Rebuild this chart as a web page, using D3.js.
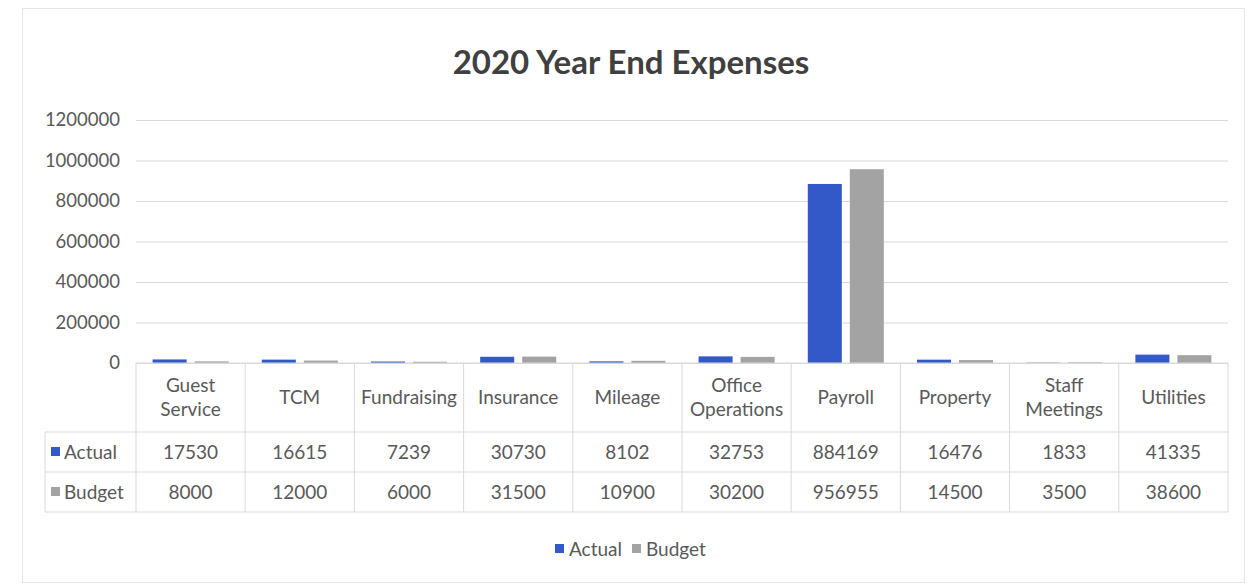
<!DOCTYPE html>
<html><head><meta charset="utf-8">
<script src="https://cdn.jsdelivr.net/npm/d3@7"></script>
<style>html,body{margin:0;padding:0;background:#fff;}svg{display:block;}</style>
</head><body>
<svg id="c" width="1248" height="585"></svg>
<script>
const categories = ["Guest Service","TCM","Fundraising","Insurance","Mileage","Office Operations","Payroll","Property","Staff Meetings","Utilities"];
const categoryLines = [["Guest","Service"],["TCM"],["Fundraising"],["Insurance"],["Mileage"],["Office","Operations"],["Payroll"],["Property"],["Staff","Meetings"],["Utilities"]];
const seriesNames = ["Actual","Budget"];
const actual = [17530,16615,7239,30730,8102,32753,884169,16476,1833,41335];
const budget = [8000,12000,6000,31500,10900,30200,956955,14500,3500,38600];
const yTicks = [0,200000,400000,600000,800000,1000000,1200000];
const title = "2020 Year End Expenses";

const colors = {Actual:"#3358c8", Budget:"#a3a3a3"};
const seriesValues = {Actual: actual, Budget: budget};
const font = "Lato, 'Open Sans', sans-serif";
const textCol = "#595959";

const svg = d3.select("#c");
svg.append("rect").attr("x",0).attr("y",0).attr("width",1248).attr("height",585).attr("fill","#fff");
// faint chart border
svg.append("rect").attr("x",22.5).attr("y",8.5).attr("width",1222).attr("height",574)
  .attr("fill","none").attr("stroke","#e6e6e6");

const L = 136, R = 1228, T = 120, B = 363;
const x = d3.scaleBand().domain(categories).range([L,R]).paddingInner(0).paddingOuter(0);
const xs = d3.scaleBand().domain(seriesNames).range([0,x.bandwidth()]).paddingInner(0.19).paddingOuter(0.395);
const y = d3.scaleLinear().domain([0,1200000]).range([B,T]);

svg.append("text").attr("x",631).attr("y",74).attr("text-anchor","middle")
  .attr("font-family",font).attr("font-weight",700).attr("font-size",33).attr("fill","#404040").text(title);

// gridlines
const yAxis = d3.axisLeft(y).tickValues(yTicks).tickSize(-(R-L)).tickPadding(16).tickFormat(d3.format("d"));
const g = svg.append("g").attr("transform",`translate(${L},0)`).call(yAxis);
g.select(".domain").remove();
g.selectAll(".tick line").attr("stroke","#d9d9d9").attr("stroke-width",1);
g.selectAll(".tick text").attr("font-family",font).attr("font-size",18.5).attr("fill",textCol);

// bars
seriesNames.forEach(s=>{
  svg.append("g").selectAll("rect").data(categories).join("rect")
    .attr("x",d=>x(d)+xs(s)).attr("width",xs.bandwidth())
    .attr("y",(d,i)=>y(seriesValues[s][i])).attr("height",(d,i)=>B-y(seriesValues[s][i]))
    .attr("fill",colors[s]);
});

// data table
const hdrBot = 432, row1 = 472, row2 = 512, legL = 45;
const lc = "#d9d9d9";
const tg = svg.append("g");
function line(x1,y1,x2,y2){tg.append("line").attr("x1",x1).attr("y1",y1).attr("x2",x2).attr("y2",y2).attr("stroke",lc).attr("stroke-width",1);}
line(L,B,R,B);
line(legL,hdrBot,R,hdrBot);
line(legL,row1,R,row1);
line(legL,row2,R,row2);
line(legL,hdrBot,legL,row2);
categories.forEach(c=>line(x(c),B,x(c),row2));
line(R,B,R,row2);

categories.forEach((c,i)=>{
  const lines = categoryLines[i];
  const cy = (B+hdrBot)/2;
  const lh = 24;
  lines.forEach((t,j)=>{
    tg.append("text").attr("x",x(c)+x.bandwidth()/2).attr("y",cy+(j-(lines.length-1)/2)*lh+6)
      .attr("text-anchor","middle").attr("font-family",font).attr("font-size",19).attr("fill",textCol).text(t);
  });
});
const rows = [[seriesNames[0],actual,hdrBot,row1],[seriesNames[1],budget,row1,row2]];
rows.forEach(([s,vals,t0,t1])=>{
  const cy = (t0+t1)/2;
  tg.append("rect").attr("x",legL+6).attr("y",cy-5).attr("width",9).attr("height",9).attr("fill",colors[s]);
  tg.append("text").attr("x",legL+19).attr("y",cy+7).attr("font-family",font).attr("font-size",19).attr("fill",textCol).text(s);
  categories.forEach((c,i)=>{
    tg.append("text").attr("x",x(c)+x.bandwidth()/2).attr("y",cy+7).attr("text-anchor","middle")
      .attr("font-family",font).attr("font-size",19).attr("fill",textCol).text(vals[i]);
  });
});

// legend
const lg = svg.append("g").attr("transform","translate(555,550)");
let lx = 0;
seriesNames.forEach(s=>{
  lg.append("rect").attr("x",lx).attr("y",-6).attr("width",9).attr("height",9).attr("fill",colors[s]);
  const t = lg.append("text").attr("x",lx+14).attr("y",6).attr("font-family",font).attr("font-size",19).attr("fill",textCol).text(s);
  lx += 14 + t.node().getComputedTextLength() + 10;
});
</script>
</body></html>
